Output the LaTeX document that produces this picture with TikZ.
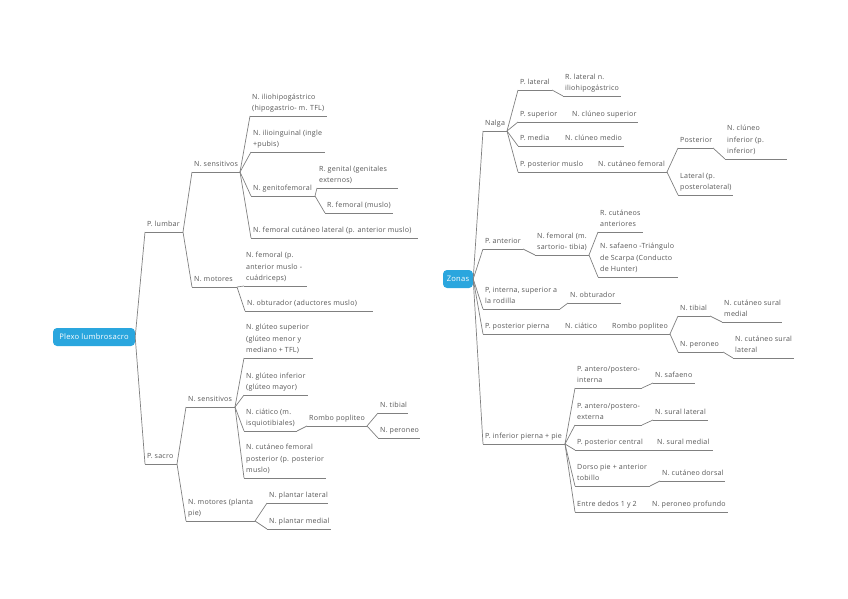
\documentclass[tikz,border=0pt]{standalone}
\usepackage{fontspec}
\setmainfont{Open Sans}[LetterSpace=3]
\definecolor{txt}{HTML}{555555}
\definecolor{ln}{HTML}{808080}
\definecolor{rootblue}{HTML}{2AA6DE}
\tikzset{
  topic/.style={anchor=south west, align=left, inner xsep=2pt, inner ysep=1.8pt,
    text=txt, font=\fontsize{7.1}{11.5}\selectfont},
  uline/.style={draw=ln, line width=0.7pt},
  conn/.style={draw=ln, line width=0.7pt},
  rootbox/.style={fill=rootblue, rounded corners=4pt, text=white, inner sep=0pt,
    font=\fontsize{7.6}{9}\selectfont},
}
\newcommand\tp[5]{%
  \node[topic] (#1) at (#2,#4) {#5\strut};
  \coordinate (#1-e) at (#3,#4);
  \draw[uline] (#1.south west) -- (#1-e);
}
\begin{document}
\begin{tikzpicture}[x=1pt,y=-1pt]
\useasboundingbox (0,0) rectangle (848,599);
% ---------- left tree ----------
\node[rootbox, minimum width=82pt, minimum height=18pt] (root) at (94,337) {Plexo lumbrosacro};
\tp{plumbar}{145}{183}{232}{P. lumbar}
\tp{lsens}{192}{240}{172}{N. sensitivos}
\tp{lmot}{192}{237}{287}{N. motores}
\tp{ilioh}{250}{327}{116}{N. iliohipogástrico\\(hipogastrio- m. TFL)}
\tp{ilioi}{251}{325}{152}{N. ilioinguinal (ingle\\+pubis)}
\tp{genito}{251}{315}{196}{N. genitofemoral}
\tp{rgen}{317}{398}{188}{R. genital (genitales\\externos)}
\tp{rfem}{325}{393}{213}{R. femoral (muslo)}
\tp{femcut}{251}{418}{238}{N. femoral cutáneo lateral (p. anterior muslo)}
\tp{lfem}{244}{307}{286}{N. femoral (p.\\anterior muslo -\\cuádriceps)}
\tp{obtur}{245}{373}{311}{N. obturador (aductores muslo)}
\tp{psacro}{145}{177}{464}{P. sacro}
\tp{ssens}{186}{235}{407}{N. sensitivos}
\tp{smot}{186}{255}{521}{N. motores (planta\\pie)}
\tp{gsup}{244}{313}{358}{N. glúteo superior\\(glúteo menor y\\mediano + TFL)}
\tp{ginf}{244}{308}{395}{N. glúteo inferior\\(glúteo mayor)}
\tp{ciat}{244}{297}{431}{N. ciático (m.\\isquiotibiales)}
\tp{rombo}{307}{367}{426}{Rombo popliteo}
\tp{stib}{378}{408}{413}{N. tibial}
\tp{sper}{378}{420}{438}{N. peroneo}
\tp{cfp}{244}{326}{478}{N. cutáneo femoral\\posterior (p. posterior\\muslo)}
\tp{pll}{267}{328}{503}{N. plantar lateral}
\tp{plm}{267}{331}{529}{N. plantar medial}
\draw[conn] (root.east) -- (plumbar.south west);
\draw[conn] (root.east) -- (psacro.south west);
\foreach \c in {lsens,lmot} \draw[conn] (plumbar-e) -- (\c.south west);
\foreach \c in {ilioh,ilioi,genito,femcut} \draw[conn] (lsens-e) -- (\c.south west);
\foreach \c in {rgen,rfem} \draw[conn] (genito-e) -- (\c.south west);
\foreach \c in {lfem,obtur} \draw[conn] (lmot-e) -- (\c.south west);
\foreach \c in {ssens,smot} \draw[conn] (psacro-e) -- (\c.south west);
\foreach \c in {gsup,ginf,ciat,cfp} \draw[conn] (ssens-e) -- (\c.south west);
\draw[conn] (ciat-e) -- (rombo.south west);
\foreach \c in {stib,sper} \draw[conn] (rombo-e) -- (\c.south west);
\foreach \c in {pll,plm} \draw[conn] (smot-e) -- (\c.south west);
% ---------- right tree ----------
\node[rootbox, minimum width=30pt, minimum height=18pt] (zonas) at (458,279) {Zonas};
\tp{nalga}{483}{507}{131}{Nalga}
\tp{plat}{518}{552}{90}{P. lateral}
\tp{rlat}{563}{621}{96}{R. lateral n.\\iliohipogástrico}
\tp{psup}{518}{562}{122}{P. superior}
\tp{csup}{570}{638}{122}{N. clúneo superior}
\tp{pmed}{518}{553}{146}{P. media}
\tp{cmed}{563}{624}{146}{N. clúneo medio}
\tp{ppm}{518}{585}{172}{P. posterior muslo}
\tp{ncf}{596}{667}{172}{N. cutáneo femoral}
\tp{post}{678}{713}{148}{Posterior}
\tp{cinf}{725}{787}{159}{N. clúneo\\inferior (p.\\inferior)}
\tp{latpl}{678}{733}{195}{Lateral (p.\\posterolateral)}
\tp{pant}{483}{523}{249}{P. anterior}
\tp{nfem}{535}{589}{255}{N. femoral (m.\\sartorio- tibia)}
\tp{rcut}{598}{643}{232}{R. cutáneos\\anteriores}
\tp{nsaf}{598}{678}{277}{N. safaeno -Triángulo\\de Scarpa (Conducto\\de Hunter)}
\tp{pint}{483}{560}{309}{P, interna, superior a\\la rodilla}
\tp{nobt}{568}{621}{303}{N. obturador}
\tp{ppp}{483}{562}{334}{P. posterior pierna}
\tp{ncia}{563}{608}{334}{N. ciático}
\tp{rpop}{610}{670}{334}{Rombo popliteo}
\tp{ntib}{678}{710}{316}{N. tibial}
\tp{csm}{722}{782}{322}{N. cutáneo sural\\medial}
\tp{nper}{678}{723}{352}{N. peroneo}
\tp{csl}{733}{794}{358}{N. cutáneo sural\\lateral}
\tp{pinf}{483}{565}{444}{P. inferior pierna + pie}
\tp{api}{575}{642}{388}{P. antero/postero-\\interna}
\tp{nsaf2}{653}{695}{383}{N. safaeno}
\tp{ape}{575}{642}{425}{P. antero/postero-\\externa}
\tp{nsl}{653}{708}{420}{N. sural lateral}
\tp{ppc}{575}{650}{450}{P. posterior central}
\tp{nsm}{655}{713}{450}{N. sural medial}
\tp{dorso}{575}{650}{486}{Dorso pie + anterior\\tobillo}
\tp{ncd}{660}{725}{481}{N. cutáneo dorsal}
\tp{entre}{575}{648}{512}{Entre dedos 1 y 2}
\tp{nprof}{650}{728}{512}{N. peroneo profundo}
\foreach \c in {nalga,pant,pint,ppp,pinf} \draw[conn] (zonas.east) -- (\c.south west);
\foreach \c in {plat,psup,pmed,ppm} \draw[conn] (nalga-e) -- (\c.south west);
\draw[conn] (plat-e) -- (rlat.south west);
\draw[conn] (psup-e) -- (csup.south west);
\draw[conn] (pmed-e) -- (cmed.south west);
\draw[conn] (ppm-e) -- (ncf.south west);
\foreach \c in {post,latpl} \draw[conn] (ncf-e) -- (\c.south west);
\draw[conn] (post-e) -- (cinf.south west);
\draw[conn] (pant-e) -- (nfem.south west);
\foreach \c in {rcut,nsaf} \draw[conn] (nfem-e) -- (\c.south west);
\draw[conn] (pint-e) -- (nobt.south west);
\draw[conn] (ppp-e) -- (ncia.south west);
\draw[conn] (ncia-e) -- (rpop.south west);
\foreach \c in {ntib,nper} \draw[conn] (rpop-e) -- (\c.south west);
\draw[conn] (ntib-e) -- (csm.south west);
\draw[conn] (nper-e) -- (csl.south west);
\foreach \c in {api,ape,ppc,dorso,entre} \draw[conn] (pinf-e) -- (\c.south west);
\draw[conn] (api-e) -- (nsaf2.south west);
\draw[conn] (ape-e) -- (nsl.south west);
\draw[conn] (ppc-e) -- (nsm.south west);
\draw[conn] (dorso-e) -- (ncd.south west);
\draw[conn] (entre-e) -- (nprof.south west);
\end{tikzpicture}
\end{document}
